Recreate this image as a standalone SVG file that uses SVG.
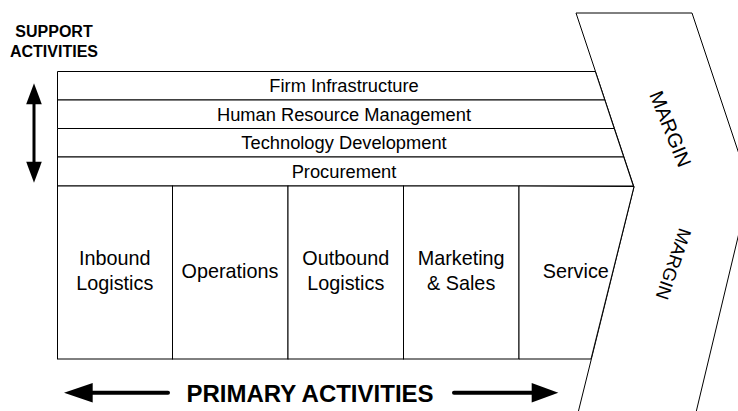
<svg xmlns="http://www.w3.org/2000/svg" width="738" height="411" viewBox="0 0 738 411">
<style>
.shape{fill:#fff;stroke:#000;stroke-width:1}
.row{fill:#fff;stroke:#000;stroke-width:1}
.t{font-family:"Liberation Sans",Arial,sans-serif;fill:#000;text-anchor:middle}
.sup{font-size:18.3px}
.pri{font-size:19.8px}
.mar{font-size:18.5px}
.mar2{font-size:20px}
.hd{font-weight:bold}
.arr{stroke:#000;fill:none;stroke-linecap:round}
.head{fill:#000;stroke:none}
</style>
<rect width="738" height="411" fill="#fff"/>
<g id="margin">
<polygon class="shape" points="576,13 692,13 750,187 693,425 575,425 634,187"/>
<text class="t mar2" transform="translate(670.5,129) rotate(68)" dy="0.35em">MARGIN</text>
<text class="t mar" transform="translate(673.5,264) rotate(109)" dy="0.35em">MARGIN</text>
</g>
<g id="support-activities">
<g id="firm-infrastructure">
<polygon class="row" points="57.5,71.5 595.3,71.5 604.8,100 57.5,100"/>
<text class="t sup" x="344" y="92">Firm Infrastructure</text>
</g>
<g id="human-resource-management">
<polygon class="row" points="57.5,100 604.8,100 614.2,128.5 57.5,128.5"/>
<text class="t sup" x="344" y="120.5">Human Resource Management</text>
</g>
<g id="technology-development">
<polygon class="row" points="57.5,128.5 614.2,128.5 623.7,157 57.5,157"/>
<text class="t sup" x="344" y="149">Technology Development</text>
</g>
<g id="procurement">
<polygon class="row" points="57.5,157 623.7,157 633.3,186 57.5,186"/>
<text class="t sup" x="344" y="178">Procurement</text>
</g>
</g>
<g id="primary-activities">
<g id="inbound-logistics">
<rect class="row" x="57.5" y="186" width="115" height="173"/>
<text class="t pri" x="114.8" y="265">Inbound</text>
<text class="t pri" x="114.8" y="290">Logistics</text>
</g>
<g id="operations">
<rect class="row" x="172.5" y="186" width="115.5" height="173"/>
<text class="t pri" x="230" y="277.5">Operations</text>
</g>
<g id="outbound-logistics">
<rect class="row" x="288" y="186" width="115.5" height="173"/>
<text class="t pri" x="345.8" y="265">Outbound</text>
<text class="t pri" x="345.8" y="290">Logistics</text>
</g>
<g id="marketing-sales">
<rect class="row" x="403.5" y="186" width="115.5" height="173"/>
<text class="t pri" x="461.2" y="265">Marketing</text>
<text class="t pri" x="461.2" y="290">&amp; Sales</text>
</g>
<g id="service">
<polygon class="row" points="519,186 634,186.5 591,359 519,359"/>
<text class="t pri" x="575.8" y="278">Service</text>
</g>
</g>
<g id="labels">
<text class="t hd" font-size="16" x="54" y="36.5">SUPPORT</text>
<text class="t hd" font-size="16" x="54" y="56.5">ACTIVITIES</text>
<text class="t hd" font-size="24" x="310" y="401.5">PRIMARY ACTIVITIES</text>
</g>
<g id="connectors">
<line class="arr" x1="34" y1="102" x2="34" y2="164" stroke-width="3"/>
<polygon class="head" points="34,83.3 26.2,104.3 41.8,104.3"/>
<polygon class="head" points="34,182.7 26.2,161.7 41.8,161.7"/>
<line class="arr" x1="90" y1="392.7" x2="168" y2="392.7" stroke-width="4"/>
<polygon class="head" points="64,392.7 92.7,383 92.7,402.4"/>
<line class="arr" x1="454" y1="392.7" x2="534" y2="392.7" stroke-width="4"/>
<polygon class="head" points="558.3,392.7 531.7,383 531.7,402.4"/>
</g>
</svg>
